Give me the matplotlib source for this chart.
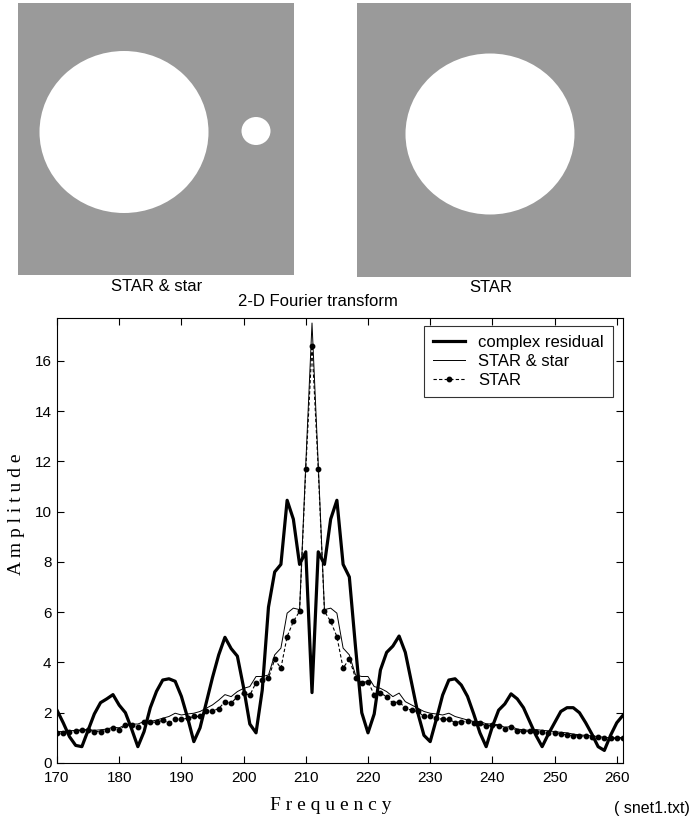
import matplotlib
matplotlib.use("Agg")
import matplotlib.pyplot as plt
from matplotlib.patches import Rectangle, Ellipse

plt.rcParams['font.family'] = ['Liberation Sans', 'DejaVu Sans']

# Fréquences et amplitudes
freq = list(range(170, 262))

residual = [2.1, 1.6, 1.05, 0.7, 0.65, 1.3, 1.95, 2.4, 2.55, 2.72,
            2.3, 2.0, 1.35, 0.65, 1.25, 2.2, 2.85, 3.3, 3.35, 3.25,
            2.65, 1.8, 0.85, 1.4, 2.4, 3.4, 4.3, 5.0, 4.55, 4.25,
            3.0, 1.55, 1.2, 2.9, 6.2, 7.6, 7.9, 10.45, 9.7, 7.9,
            8.4, 2.8, 8.4, 7.9, 9.7, 10.45, 7.9, 7.4, 4.6, 2.0,
            1.2, 1.95, 3.7, 4.4, 4.65, 5.05, 4.4, 3.2, 2.0, 1.1,
            0.85, 1.75, 2.7, 3.3, 3.35, 3.1, 2.65, 1.95, 1.2, 0.65,
            1.45, 2.1, 2.35, 2.75, 2.55, 2.2, 1.65, 1.1, 0.65, 1.15,
            1.6, 2.05, 2.2, 2.2, 2.0, 1.6, 1.15, 0.65, 0.5, 1.1,
            1.6, 1.9]

star_and_star = [1.25, 1.25, 1.28, 1.3, 1.32, 1.33, 1.3, 1.32, 1.35, 1.42,
                 1.4, 1.52, 1.55, 1.55, 1.65, 1.65, 1.71, 1.78, 1.85, 1.98,
                 1.91, 1.95, 1.98, 2.05, 2.18, 2.31, 2.5, 2.72, 2.64, 2.84,
                 2.97, 3.04, 3.44, 3.44, 3.5, 4.3, 4.57, 5.96, 6.16, 6.1,
                 11.9, 17.5, 11.9, 6.1, 6.16, 5.96, 4.57, 4.3, 3.5, 3.44,
                 3.44, 3.04, 2.97, 2.84, 2.64, 2.78, 2.44, 2.31, 2.18, 2.05,
                 1.98, 1.95, 1.91, 1.98, 1.85, 1.78, 1.71, 1.65, 1.65, 1.56,
                 1.55, 1.52, 1.42, 1.45, 1.35, 1.32, 1.3, 1.33, 1.3, 1.28,
                 1.25, 1.22, 1.2, 1.15, 1.12, 1.1, 1.08, 1.05, 1.02, 1.0,
                 1.0, 1.02]

star = [1.18, 1.2, 1.25, 1.28, 1.3, 1.32, 1.25, 1.25, 1.3, 1.4,
        1.32, 1.5, 1.5, 1.45, 1.62, 1.63, 1.62, 1.7, 1.6, 1.74,
        1.74, 1.78, 1.85, 1.85, 2.05, 2.08, 2.16, 2.44, 2.38, 2.64,
        2.78, 2.69, 3.2, 3.3, 3.37, 4.12, 3.77, 5.03, 5.63, 6.03,
        11.7, 16.6, 11.7, 6.03, 5.63, 5.03, 3.77, 4.15, 3.37, 3.2,
        3.24, 2.71, 2.78, 2.64, 2.38, 2.44, 2.18, 2.1, 2.05, 1.85,
        1.85, 1.78, 1.74, 1.74, 1.61, 1.65, 1.66, 1.61, 1.6, 1.47,
        1.5, 1.48, 1.36, 1.42, 1.27, 1.27, 1.26, 1.25, 1.23, 1.2,
        1.2, 1.16, 1.12, 1.09, 1.08, 1.06, 1.05, 1.02, 0.99, 0.98,
        0.98, 1.0]

labels = ['complex residual', 'STAR & star', 'STAR']
x_ticks = list(range(170, 261, 10))
y_ticks = list(range(0, 17, 2))

W, H = 691, 823


def box(x0, y0, x1, y1):
    # position en pixels -> coordonnées de la figure
    return [x0 / W, 1 - y1 / H, (x1 - x0) / W, (y1 - y0) / H]


fig = plt.figure(figsize=(W / 100, H / 100), dpi=100)

# Les deux images (masques) en haut : carré gris, disques blancs
gray = '#9a9a9a'
images = [
    (box(18, 3, 294, 275), [(106, 129, 169, 162), (238, 128, 29, 28)], 'STAR & star', 157, 287),
    (box(357, 3, 631, 277), [(133, 131, 169, 161)], 'STAR', 491, 288),
]
for pos, holes, name, tx, ty in images:
    axi = fig.add_axes(pos)
    w = pos[2] * W
    h = pos[3] * H
    axi.set_xlim(0, w)
    axi.set_ylim(h, 0)
    axi.add_patch(Rectangle((0, 0), w, h, color=gray, lw=0))
    for cx, cy, ew, eh in holes:
        axi.add_patch(Ellipse((cx, cy), ew, eh, color='white', lw=0))
    axi.axis('off')
    fig.text(tx / W, 1 - ty / H, name, ha='center', va='center', fontsize=12)

fig.text(318 / W, 1 - 302 / H, '2-D Fourier transform', ha='center', va='center', fontsize=12)

# Graphique principal
ax = fig.add_axes(box(57, 318, 623, 763))
ax.plot(freq, residual, color='black', lw=2.3, label=labels[0])
ax.plot(freq, star_and_star, color='black', lw=0.7, label=labels[1])
ax.plot(freq, star, color='black', lw=0.8, ls=(0, (3, 2)), marker='o', ms=3.2,
        label=labels[2])

ax.set_xlim(170, 261)
ax.set_ylim(0, 17.7)
ax.set_xticks(x_ticks)
ax.set_yticks(y_ticks)
ax.tick_params(direction='in', top=True, right=True, length=5, width=0.8,
               labelsize=11)
ax.tick_params(axis='x', pad=6)
ax.tick_params(axis='y', pad=4)
for s in ax.spines.values():
    s.set_linewidth(0.8)

leg = ax.legend(loc='upper right', bbox_to_anchor=(0.982, 0.982), borderaxespad=0,
                fancybox=False, edgecolor='black', fontsize=12, handlelength=1.9,
                labelspacing=0.22, borderpad=0.55, handletextpad=0.8)
leg.get_frame().set_linewidth(0.8)

fig.text(331 / W, 1 - 806 / H, 'F r e q u e n c y', ha='center', va='center',
         fontsize=14, family='Liberation Serif')
fig.text(17 / W, 1 - 514 / H, 'A m p l i t u d e', ha='center', va='center',
         rotation=90, fontsize=14, family='Liberation Serif')
fig.text(690 / W, 1 - 808 / H, '( snet1.txt)', ha='right', va='center', fontsize=11.5)

fig.savefig('out.png', dpi=100)
